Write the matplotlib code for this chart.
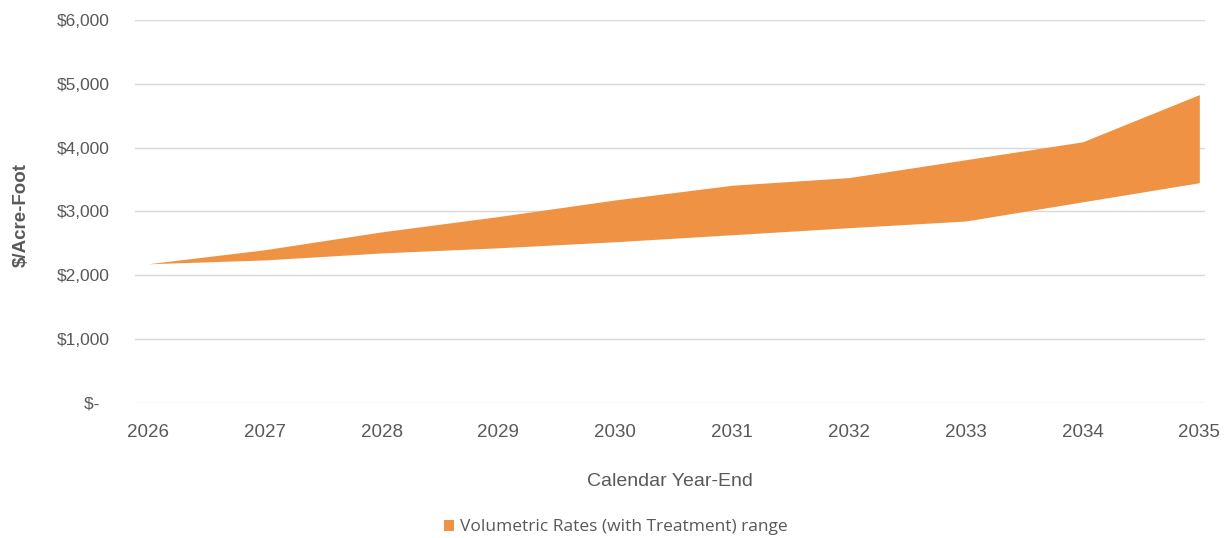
import matplotlib
matplotlib.use("Agg")
import matplotlib.pyplot as plt
from matplotlib.patches import Patch
from matplotlib.ticker import FuncFormatter

years = [2026, 2027, 2028, 2029, 2030, 2031, 2032, 2033, 2034, 2035]
rate_high = [2180, 2400, 2680, 2920, 3180, 3410, 3530, 3810, 4090, 4830]
rate_low = [2180, 2240, 2350, 2430, 2525, 2635, 2745, 2850, 3150, 3450]
y_ticks = [0, 1000, 2000, 3000, 4000, 5000, 6000]
legend_label = "Volumetric Rates (with Treatment) range"
band_color = "#EF9243"
text_gray = "#595959"

fig = plt.figure(figsize=(12.31, 5.38), dpi=100)
ax = fig.add_axes([0.1097, 0.251, 0.979 - 0.1097, 0.963 - 0.251])

ax.fill_between(years, rate_low, rate_high, color=band_color, linewidth=0, zorder=3)

ax.set_xlim(2025.89, 2035.05)
ax.set_ylim(0, 6000)
ax.set_yticks(y_ticks)
ax.set_xticks(years)
ax.yaxis.set_major_formatter(FuncFormatter(lambda v, p: "$-  " if v == 0 else f"${v:,.0f}"))
ax.grid(axis="y", color="#D9D9D9", linewidth=1.0, zorder=0)
ax.set_axisbelow(True)
for s in ax.spines.values():
    s.set_visible(False)
ax.tick_params(axis="both", length=0)
ax.tick_params(axis="y", pad=18.5, labelsize=12.5, labelcolor=text_gray)
ax.tick_params(axis="x", pad=15, labelcolor=text_gray)
for lbl in ax.get_yticklabels():
    lbl.set_family("Liberation Sans")
for lbl in ax.get_xticklabels():
    lbl.set_family("Liberation Sans")
    lbl.set_fontsize(13.5)

ax.set_xlabel("Calendar Year-End", family="Liberation Sans", fontsize=14,
              color=text_gray, labelpad=23)
fig.text(0.017, 0.60, "$/Acre-Foot", rotation=90, ha="center", va="center",
         family="Liberation Sans", fontweight="bold", fontsize=13.5, color=text_gray)

handle = Patch(facecolor=band_color, edgecolor="none")
fig.legend([handle], [legend_label], loc="center", bbox_to_anchor=(0.5, 0.02),
           frameon=False, prop={"family": "Open Sans", "size": 12.5},
           labelcolor=text_gray, handlelength=0.6, handleheight=0.6, handletextpad=0.3)

fig.savefig("out.png", dpi=100, facecolor="white")
